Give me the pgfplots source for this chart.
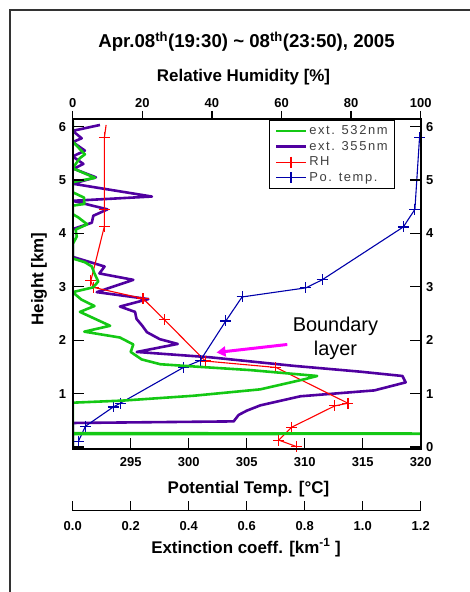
\documentclass[border=0pt]{standalone}
\usepackage{fontspec}
\setmainfont{Liberation Sans}
\newfontfamily\legfont[LetterSpace=12]{Liberation Sans}
\usepackage{pgfplots}
\pgfplotsset{compat=1.18}
\usetikzlibrary{arrows.meta}

\definecolor{gr}{RGB}{20,200,20}
\definecolor{pu}{RGB}{80,0,160}
\definecolor{rd}{RGB}{255,0,0}
\definecolor{bl}{RGB}{0,0,170}
\definecolor{mg}{RGB}{255,0,255}

\pgfplotsset{
  panel/.style={scale only axis, width=348bp, height=330bp, at={(72.7bp,143bp)},
    anchor=south west, ymin=-0.037, ymax=6.142},
  hid/.style={panel, hide axis},
  mytick/.style={tick label style={font=\bfseries\fontsize{13}{13}\selectfont},
    /pgf/number format/assume math mode=true,
    major tick style={black, line width=1.3bp},
    axis line style={black, line width=1.6bp},
    label style={font=\bfseries\fontsize{17}{17}\selectfont}},
  eline/.style={draw=#1, line width=2.6bp, line join=round, mark=none},
  tline/.style={draw=#1, line width=1.1bp, mark=+, mark size=5.5bp,
    mark options={line width=1.1bp}},
}

\begin{document}
\begin{tikzpicture}[x=1bp,y=1bp]
\useasboundingbox (0,0) rectangle (470,592);
\draw[line width=2bp, black!80] (10,0) -- (10,582) -- (470,582);

% ext. 355nm
\begin{axis}[hid, xmin=0, xmax=1.2]
\addplot[eline=pu] coordinates {
  (0.094,6.03) (0.0,5.92) (0.031,5.78) (0.0,5.71) (0.042,5.55) (0.0,5.44)
  (0.037,5.30) (0.003,5.21) (0.080,5.05) (0.0,4.93) (0.273,4.69) (0.0,4.61)
  (0.120,4.45) (0.071,4.33) (0.066,4.20) (0.0,4.08) (0.0,3.56) (0.110,3.38)
  (0.092,3.25) (0.209,3.13) (0.083,2.90) (0.261,2.77) (0.163,2.63) (0.215,2.53)
  (0.220,2.40) (0.240,2.27) (0.256,2.15) (0.300,2.02) (0.362,1.93) (0.221,1.78)
  (0.474,1.68) (0.762,1.52) (0.993,1.41) (1.137,1.33) (1.148,1.21) (1.040,1.06)
  (0.785,0.95) (0.647,0.78) (0.600,0.68) (0.572,0.60) (0.555,0.48) (0.0,0.45)
  (0.0,-0.1)
};
\end{axis}

% RH
\begin{axis}[hid, xmin=0, xmax=100]
\addplot[draw=rd, line width=1.1bp] coordinates {(9.1,5.79) (9.6,6.03)};
\addplot[tline=rd] coordinates {
  (9.1,5.79) (9.1,4.44) (9.1,4.13) (5.2,3.11) (5.9,2.99) (20.2,2.78)
  (26.4,2.38) (38.1,1.61) (58.4,1.49) (79.1,0.82) (75.3,0.77) (62.9,0.37)
  (59.2,0.13) (64.2,0.01)
};
\end{axis}

% potential temperature
\begin{axis}[hid, xmin=290, xmax=320]
\addplot[tline=bl] coordinates {
  (290.5,0.11) (291.1,0.39) (293.5,0.75) (294.1,0.82) (299.55,1.49) (301.0,1.62)
  (303.2,2.36) (304.6,2.81) (310.1,2.98) (311.5,3.13) (318.5,4.12) (319.5,4.45)
  (319.9,5.80) (320.5,6.2)
};
\draw[mg, line width=3bp, -{Triangle[length=9bp,width=10bp]}]
  (axis cs:308.5,1.92) -- (axis cs:302.4,1.77);
\node[anchor=base, font=\fontsize{20}{20}\selectfont] at (axis cs:312.65,2.17) {Boundary};
\node[anchor=base, font=\fontsize{20}{20}\selectfont] at (axis cs:312.65,1.71) {layer};
\end{axis}

% ext. 532nm
\begin{axis}[hid, xmin=0, xmax=1.2]
\addplot[eline=gr] coordinates {
  (0,6.10) (0,5.72) (0.042,5.48) (0.025,5.41) (0.0,5.22) (0.077,5.04) (0.0,4.96)
  (0.0,4.77) (0.039,4.67) (0.040,4.55) (0.0,4.52) (0.0,4.36) (0.019,4.30)
  (0.050,4.17) (0.010,4.07) (0.014,3.94) (0.0,3.80) (0.0,3.53) (0.042,3.46)
  (0.066,3.38) (0.075,3.25) (0.088,3.10) (0.071,2.99) (0.0,2.90) (0.030,2.76)
  (0.075,2.64) (0.025,2.53) (0.129,2.27) (0.040,2.16) (0.163,2.05) (0.209,1.92)
  (0.200,1.78) (0.238,1.64) (0.302,1.55) (0.440,1.50) (0.613,1.44) (0.843,1.33)
  (0.800,1.27) (0.647,1.08) (0.417,0.96) (0.175,0.87) (0.0,0.83) (0.0,0.26)
  (1.5,0.25) (0.0,0.24) (0.0,-0.1)
};
\end{axis}

% frame: bottom and left
\begin{axis}[panel, mytick, xmin=290, xmax=320,
  xtick={290,295,...,320}, xticklabels={,295,300,305,310,315,320},
  xtick pos=lower, ytick={0,...,6}, yticklabels={,1,2,3,4,5,6},
  ytick pos=both, yticklabel pos=left, tick align=inside, major tick length=11bp,
  xticklabel style={yshift=-5bp}, yticklabel style={xshift=-3bp},
  xlabel={Potential Temp. [°C]},
  xlabel style={at={(axis description cs:0.505,0)}, anchor=center, yshift=-40bp},
  ylabel={Height [km]},
  ylabel style={at={(axis description cs:-0.097,0.515)}, anchor=center}]
\end{axis}

% right labels
\begin{axis}[panel, mytick, xmin=290, xmax=320, hide x axis, axis y line*=right,
  ytick={0,...,6}, major tick length=0pt, yticklabel style={xshift=2bp}]
\end{axis}

% top: relative humidity, title, legend
\begin{axis}[panel, mytick, xmin=0, xmax=100, hide y axis, axis x line*=top,
  xtick={0,20,...,100}, tick align=outside, major tick length=8bp,
  xlabel={Relative Humidity [\%]},
  xlabel style={at={(axis description cs:0.491,1)}, anchor=center, yshift=42bp},
  title={Apr.08\textsuperscript{th}(19:30) \char`\~{} 08\textsuperscript{th}(23:50), 2005},
  title style={at={(axis description cs:0.4995,1)}, anchor=center, yshift=71bp,
    font=\bfseries\fontsize{18.7}{18.7}\selectfont},
  legend style={at={(axis description cs:0.926,0.998)}, anchor=north east,
    draw=black, line width=0.8bp, fill=white,
    font=\legfont\fontsize{13}{15}\selectfont, text=black!75,
    inner xsep=5bp, inner ysep=3.5bp, row sep=1.2bp},
  legend cell align=left,
  legend image code/.code={\draw[mark repeat=2,mark phase=2,#1]
    plot coordinates {(0bp,0bp) (15bp,0bp) (30bp,0bp)};}]
\addlegendimage{eline=gr}
\addlegendentry{ext. 532nm}
\addlegendimage{eline=pu}
\addlegendentry{ext. 355nm}
\addlegendimage{tline=rd}
\addlegendentry{RH}
\addlegendimage{tline=bl}
\addlegendentry{Po. temp.}
\end{axis}

% extinction axis below
\begin{axis}[mytick, scale only axis, width=348bp, height=20bp, at={(72.7bp,81.3bp)},
  anchor=south west, xmin=0, xmax=1.2, ymin=0, ymax=1, hide y axis,
  axis x line*=bottom, xtick={0,0.2,0.4,0.6,0.8,1.0,1.2},
  xticklabels={0.0,0.2,0.4,0.6,0.8,1.0,1.2}, tick align=inside,
  major tick length=10bp, xticklabel style={yshift=-7bp},
  xlabel={Extinction coeff. [km\textsuperscript{-1} ]},
  xlabel style={at={(axis description cs:0.498,0)}, anchor=center, yshift=-37bp}]
\end{axis}
\end{tikzpicture}
\end{document}
